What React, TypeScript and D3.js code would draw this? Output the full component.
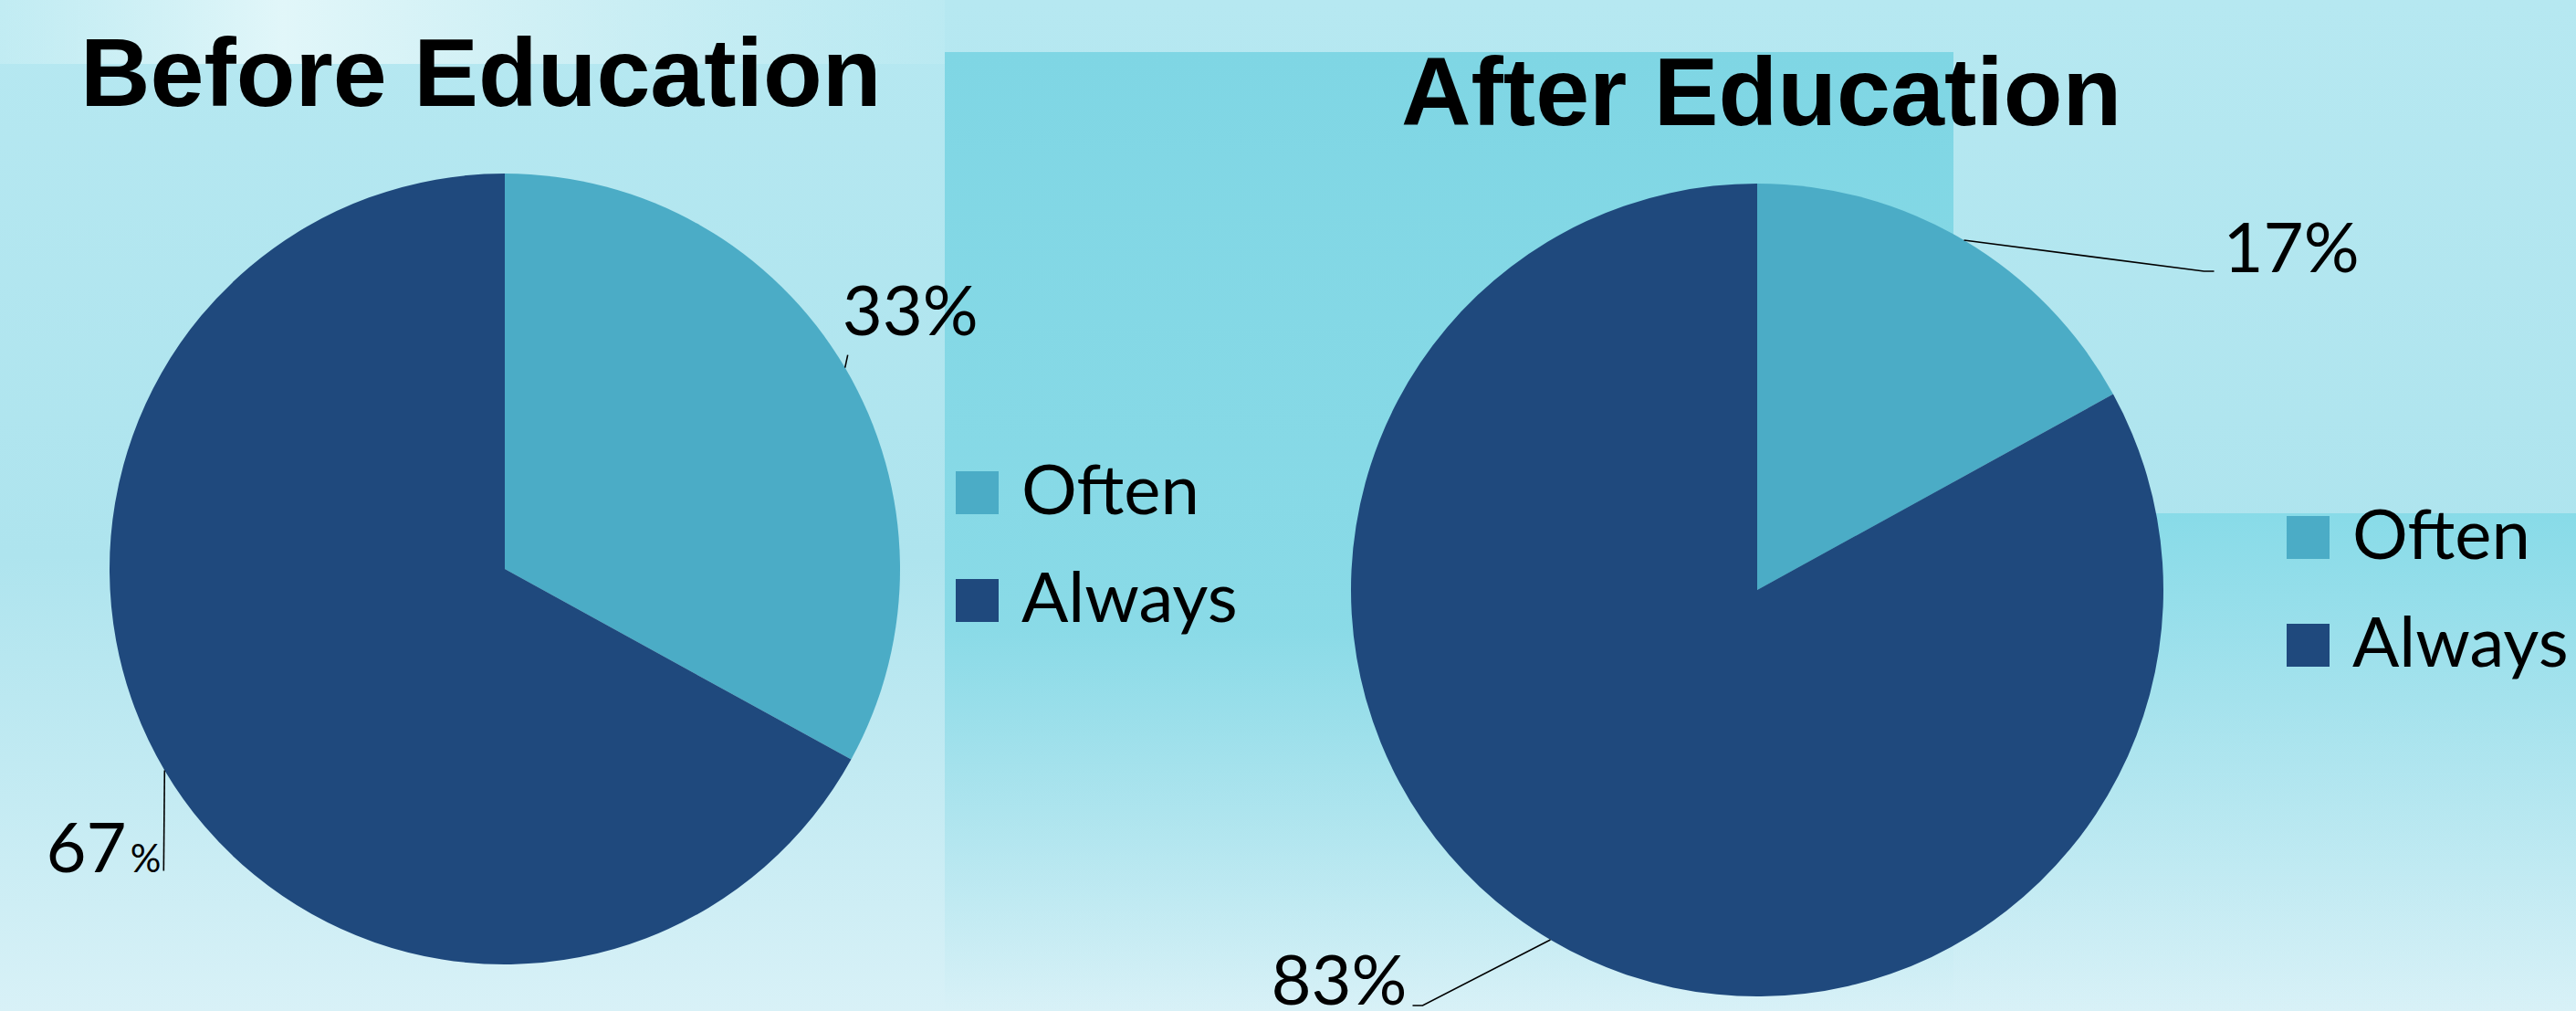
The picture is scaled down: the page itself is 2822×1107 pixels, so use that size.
import React from "react";
import * as d3 from "d3";

const categories = ["Often", "Always"];
const beforeValues = [33, 67];
const afterValues = [17, 83];
const titles = ["Before Education", "After Education"];
const labelTexts = [["33%", "67%"], ["17%", "83%"]];
const colors = ["#4BACC6", "#1F497D"];

const W = 2822;
const H = 1107;

type LeaderCfg = {
  elbow: [number, number];
  tail: number;
  anchor: "start" | "end";
  tdx: number;
  tdy: number;
  smallPct?: boolean;
};

const panels = [
  {
    title: titles[0],
    values: beforeValues,
    labels: labelTexts[0],
    cx: 553,
    cy: 623,
    r: 433,
    titleX: 88,
    titleY: 116,
    legendX: 1047,
    legendY: 516,
    leaders: [
      { elbow: [3, -14], tail: 0, anchor: "start", tdx: -6, tdy: -22 },
      { elbow: [-1, 110], tail: 0, anchor: "end", tdx: -3, tdy: 2, smallPct: true },
    ] as LeaderCfg[],
  },
  {
    title: titles[1],
    values: afterValues,
    labels: labelTexts[1],
    cx: 1925,
    cy: 646,
    r: 445,
    titleX: 1535,
    titleY: 137,
    legendX: 2505,
    legendY: 565,
    leaders: [
      { elbow: [263, 34], tail: 11, anchor: "start", tdx: 10, tdy: 1 },
      { elbow: [-140, 72], tail: -11, anchor: "end", tdx: -6, tdy: -1 },
    ] as LeaderCfg[],
  },
];

const labelFont = "Lato, 'Open Sans', sans-serif";
const titleFont = "'Liberation Sans', Arial, sans-serif";

function Panel({ p }: { p: (typeof panels)[number] }) {
  const pie = d3.pie<number>().sort(null).value((d) => d);
  const arcs = pie(p.values);
  const arc = d3.arc<d3.PieArcDatum<number>>().innerRadius(0).outerRadius(p.r);
  return (
    <g>
      <text
        x={p.titleX}
        y={p.titleY}
        fontFamily={titleFont}
        fontWeight="bold"
        fontSize={106}
        fill="#000"
      >
        {p.title}
      </text>
      <g transform={`translate(${p.cx},${p.cy})`}>
        {arcs.map((a, i) => (
          <path key={i} d={arc(a) || ""} fill={colors[i]} />
        ))}
        {arcs.map((a, i) => {
          const mid = (a.startAngle + a.endAngle) / 2;
          const sx = p.r * Math.sin(mid);
          const sy = -p.r * Math.cos(mid);
          const L = p.leaders[i];
          const ex = sx + L.elbow[0];
          const ey = sy + L.elbow[1];
          const tx = ex + L.tail;
          const ty = ey;
          const txt = p.labels[i];
          return (
            <g key={"l" + i}>
              <polyline
                points={`${sx},${sy} ${ex},${ey} ${tx},${ty}`}
                fill="none"
                stroke="#000"
                strokeWidth={1.6}
              />
              <text
                x={tx + L.tdx}
                y={ty + L.tdy}
                textAnchor={L.anchor}
                fontFamily={labelFont}
                fontSize={76}
                fill="#000"
              >
                {L.smallPct ? (
                  <>
                    {txt.replace("%", "")}
                    <tspan fontSize={42} dx={4}>%</tspan>
                  </>
                ) : (
                  txt
                )}
              </text>
            </g>
          );
        })}
      </g>
      <g transform={`translate(${p.legendX},${p.legendY})`}>
        {categories.map((c, i) => (
          <g key={c} transform={`translate(0,${i * 118})`}>
            <rect width={47} height={47} fill={colors[i]} />
            <text x={72} y={47} fontFamily={labelFont} fontSize={76} fill="#000">
              {c}
            </text>
          </g>
        ))}
      </g>
    </g>
  );
}

export default function App() {
  return (
    <svg
      width={W}
      height={H}
      viewBox={`0 0 ${W} ${H}`}
      style={{ position: "absolute", left: 0, top: 0, display: "block" }}
    >
      <defs>
        <linearGradient id="bgBase" x1="0" y1="0" x2="0" y2="1">
          <stop offset="0" stopColor="#B6E8F1" />
          <stop offset="0.55" stopColor="#AEE4EE" />
          <stop offset="1" stopColor="#D8F1F7" />
        </linearGradient>
        <linearGradient id="midBand" x1="0" y1="0" x2="0" y2="1">
          <stop offset="0" stopColor="#7FD6E4" stopOpacity="1" />
          <stop offset="0.6" stopColor="#85D9E6" stopOpacity="0.9" />
          <stop offset="1" stopColor="#9FE0EB" stopOpacity="0" />
        </linearGradient>
        <linearGradient id="rightBand" x1="0" y1="0" x2="0" y2="1">
          <stop offset="0" stopColor="#88DBE8" stopOpacity="1" />
          <stop offset="1" stopColor="#B0E5EF" stopOpacity="0" />
        </linearGradient>
        <linearGradient id="topGlow" x1="0" y1="0" x2="1" y2="0">
          <stop offset="0" stopColor="#D3F2F6" stopOpacity="0.4" />
          <stop offset="0.3" stopColor="#E6F8FA" stopOpacity="0.9" />
          <stop offset="0.6" stopColor="#DDF4F7" stopOpacity="0.6" />
          <stop offset="1" stopColor="#C7EEF4" stopOpacity="0.3" />
        </linearGradient>
      </defs>
      <rect width={W} height={H} fill="url(#bgBase)" />
      <rect x={1035} y={57} width={1105} height={1050} fill="url(#midBand)" />
      <rect x={2140} y={562} width={682} height={545} fill="url(#rightBand)" />
      <rect x={0} y={0} width={1035} height={70} fill="url(#topGlow)" />
      {panels.map((p, i) => (
        <Panel key={i} p={p} />
      ))}
    </svg>
  );
}
